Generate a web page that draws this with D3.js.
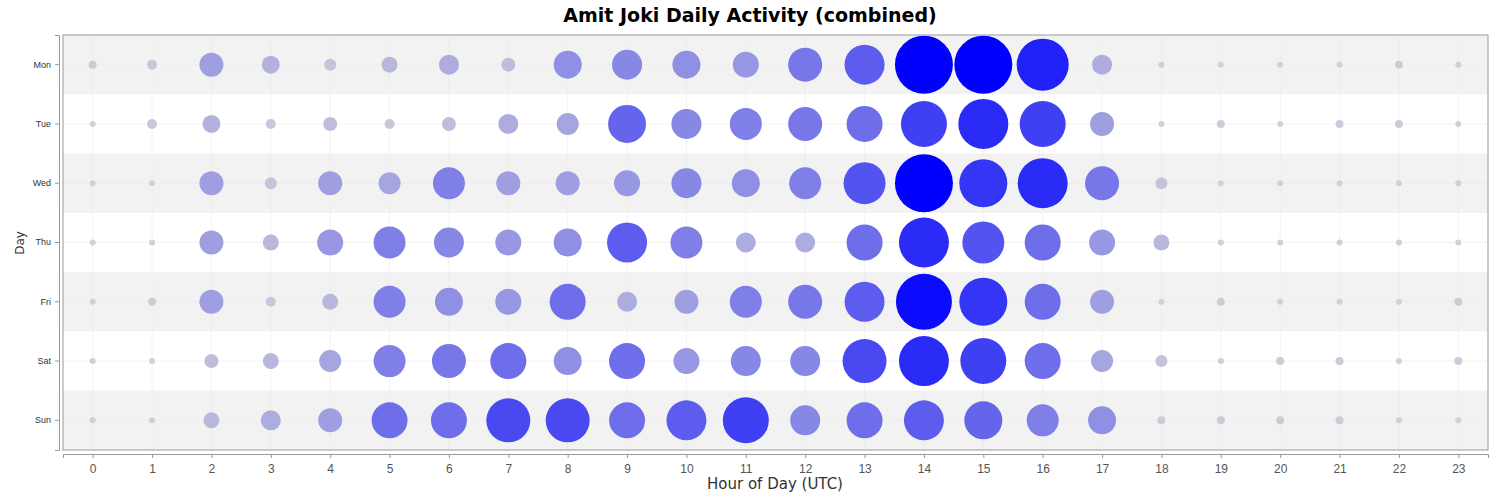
<!DOCTYPE html>
<html><head><meta charset="utf-8">
<script src="https://cdn.jsdelivr.net/npm/d3@7"></script>
<style>body{margin:0;background:#fff}</style>
</head><body><div class="container"></div>
<script>
const days = ['Mon', 'Tue', 'Wed', 'Thu', 'Fri', 'Sat', 'Sun'];
const hours = d3.range(24);
// activity level per day (rows) and hour (cols)
const mon = [4,5,12,9,6,8,10,7,14,15,14,13,17,20,29,29,26,10,3,3,3,3,4,3];
const tue = [3,5,9,5,7,5,7,10,11,19,15,16,17,18,23,25,23,12,3,4,3,4,4,3];
const wed = [3,3,12,6,12,11,16,12,12,13,15,14,16,21,29,24,25,17,6,3,3,3,3,3];
const thu = [3,3,12,8,13,16,15,13,14,20,16,10,10,18,25,21,18,13,8,3,3,3,3,3];
const fri = [3,4,12,5,8,16,14,13,18,10,12,16,17,20,28,24,18,12,3,4,3,3,3,4];
const sat = [3,3,7,8,11,16,17,18,14,18,13,15,15,22,25,23,18,11,6,3,4,4,3,4];
const sun = [3,3,8,10,12,18,18,22,22,18,20,23,15,18,20,19,16,14,4,4,4,4,3,3];
const rows = [mon, tue, wed, thu, fri, sat, sun];

const width = 1500, height = 500;
const plotLeft = 63, plotRight = 1488, plotTop = 35, plotBottom = 450;

const cells = [];
rows.forEach((r, i) => r.forEach((v, h) => cells.push({day: days[i], hour: h, v})));

const x = d3.scaleLinear().domain([-0.5, 23.5]).range([plotLeft, plotRight]);
const y = d3.scaleBand().domain(days).range([plotTop, plotBottom]);
const rScale = d3.scaleLinear().domain([0, 29]).range([0, 29]);
const tScale = d3.scalePow().exponent(1.5).domain([3, 29]).range([0, 1]).clamp(true);
const color = d3.interpolateRgb('#d0d0d8', '#0000ff');

const svg = d3.select('.container').append('svg').attr('width', width).attr('height', height)
  .style('font-family', 'DejaVu Sans, sans-serif');

// row stripes
svg.selectAll('rect.stripe').data(days).enter().append('rect')
  .attr('x', plotLeft).attr('y', d => y(d)).attr('width', plotRight - plotLeft).attr('height', y.bandwidth())
  .attr('fill', (d, i) => i % 2 === 0 ? '#f2f2f2' : '#ffffff');

// faint grid
svg.append('g').selectAll('line').data(hours).enter().append('line')
  .attr('x1', d => x(d)).attr('x2', d => x(d)).attr('y1', plotTop).attr('y2', plotBottom)
  .attr('stroke', '#ebebeb').attr('stroke-width', 0.6);
svg.append('g').selectAll('line').data(days).enter().append('line')
  .attr('x1', plotLeft).attr('x2', plotRight)
  .attr('y1', d => y(d) + y.bandwidth() / 2).attr('y2', d => y(d) + y.bandwidth() / 2)
  .attr('stroke', '#ebebeb').attr('stroke-width', 0.6);

svg.append('g').selectAll('circle').data(cells).enter().append('circle')
  .attr('cx', d => x(d.hour)).attr('cy', d => y(d.day) + y.bandwidth() / 2)
  .attr('r', d => rScale(d.v))
  .attr('fill', d => color(tScale(d.v)));

svg.append('rect').attr('x', plotLeft).attr('y', plotTop).attr('width', plotRight - plotLeft).attr('height', plotBottom - plotTop)
  .attr('fill', 'none').attr('stroke', '#999');

// x axis
const xAxis = d3.axisBottom(x).tickValues(hours).tickSize(4).tickPadding(6);
const gx = svg.append('g').attr('transform', `translate(0, ${plotBottom + 4})`).call(xAxis);
gx.select('.domain').attr('stroke', '#999');
gx.selectAll('.tick line').attr('stroke', '#999');
gx.selectAll('text').attr('fill', '#555').attr('font-size', 12);

// y axis
const yAxis = d3.axisLeft(y).tickSize(4).tickPadding(4);
const gy = svg.append('g').attr('transform', `translate(${plotLeft - 4}, 0)`).call(yAxis);
gy.select('.domain').attr('stroke', '#999');
gy.selectAll('.tick line').attr('stroke', '#999');
gy.selectAll('text').attr('fill', '#333').attr('font-size', 9);

svg.append('text').attr('x', 750).attr('y', 22).attr('text-anchor', 'middle')
  .attr('font-size', 19).attr('font-weight', 'bold').text('Amit Joki Daily Activity (combined)');
svg.append('text').attr('x', 775).attr('y', 489).attr('text-anchor', 'middle')
  .attr('font-size', 15).attr('fill', '#333').text('Hour of Day (UTC)');
svg.append('text').attr('transform', 'rotate(-90)').attr('x', -243).attr('y', 24)
  .attr('text-anchor', 'middle').attr('font-size', 12).attr('fill', '#333').text('Day');
</script></body></html>
